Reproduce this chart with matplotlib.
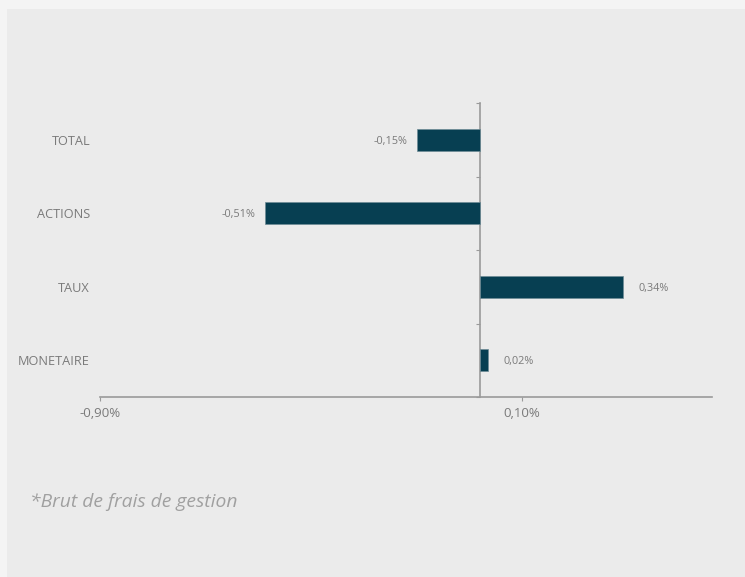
import matplotlib
matplotlib.use("Agg")
import matplotlib.pyplot as plt
import matplotlib.transforms as mtransforms
from matplotlib.patches import Rectangle

categories = ["TOTAL", "ACTIONS", "TAUX", "MONETAIRE"]
values = [-0.15, -0.51, 0.34, 0.02]
value_labels = ["-0,15%", "-0,51%", "0,34%", "0,02%"]
xticks = [-0.90, 0.10]
xtick_labels = ["-0,90%", "0,10%"]
footnote = "*Brut de frais de gestion"

plt.rcParams['font.family'] = ['Open Sans', 'DejaVu Sans']

W, H = 745, 577
fig = plt.figure(figsize=(W/100, H/100), dpi=100)
fig.patch.set_facecolor('#f4f4f4')
fig.patches.append(Rectangle((7/W, 0), 1, 1 - 9/H, transform=fig.transFigure,
                             facecolor='#ebebeb', edgecolor='none', zorder=-10))

ax = fig.add_axes([100/W, 1 - 397/H, (712-100)/W, (397-103)/H])
ax.set_facecolor('none')
ax.set_zorder(1)

n = len(categories)
ypos = list(range(n))
bar_color = '#073f52'
ax.barh(ypos, values, height=0.3, color=bar_color, edgecolor='#6f8c96', linewidth=0.5, zorder=3)
ax.set_xlim(-0.90, 0.55)
ax.set_ylim(n - 0.5, -0.5)

for y, v, lab in zip(ypos, values, value_labels):
    if v < 0:
        ax.text(v - 0.022, y + 0.02, lab, ha='right', va='center', fontsize=7.8, color='#7a7a7a')
    else:
        ax.text(v + 0.037, y + 0.02, lab, ha='left', va='center', fontsize=7.8, color='#7a7a7a')

axis_color = '#9a9a9a'
for s in ['top', 'right']:
    ax.spines[s].set_visible(False)
ax.spines['left'].set_position(('data', 0))
ax.spines['left'].set_color(axis_color)
ax.spines['bottom'].set_color(axis_color)
ax.spines['left'].set_linewidth(1.2)
ax.spines['bottom'].set_linewidth(1.2)

ax.set_xticks(xticks)
ax.set_xticklabels(xtick_labels, fontsize=9.5, color='#7a7a7a')
ax.tick_params(axis='x', direction='out', length=3, color=axis_color, pad=4)

ax.set_yticks([i - 0.5 for i in range(n + 1)])
ax.set_yticklabels([])
ax.tick_params(axis='y', direction='out', length=3, color=axis_color)

lab_tr = mtransforms.blended_transform_factory(fig.transFigure, ax.transData)
for y, c in zip(ypos, categories):
    ax.text(90/W, y + 0.02, c, transform=lab_tr, ha='right', va='center',
            fontsize=9.2, color='#7a7a7a', clip_on=False)

fig.text(30/W, 1 - 502/H, footnote, fontsize=13.9, style='italic', color='#a0a0a0',
         ha='left', va='center')

fig.savefig('out.png', dpi=100, facecolor=fig.get_facecolor())
